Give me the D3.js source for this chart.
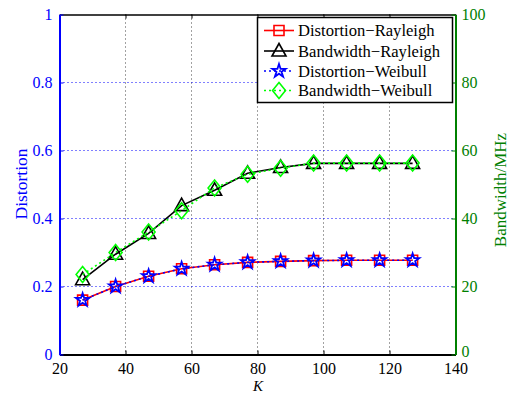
<!DOCTYPE html>
<html><head><meta charset="utf-8">
<script src="https://cdn.jsdelivr.net/npm/d3@7"></script>
<style>body{margin:0;background:#fff}svg{display:block}text{font-family:"Liberation Serif","Times New Roman",serif}</style>
</head><body>
<svg id="c" width="511" height="393"></svg>
<script>
const K = [27, 37, 47, 57, 67, 77, 87, 97, 107, 117, 127];
const distRayleigh = [0.160, 0.200, 0.230, 0.252, 0.264, 0.271, 0.274, 0.276, 0.277, 0.277, 0.277];
const bwRayleigh = [22.0, 29.5, 35.6, 43.8, 48.3, 53.3, 55.0, 56.2, 56.2, 56.2, 56.2];
const distWeibull = [0.160, 0.200, 0.230, 0.252, 0.264, 0.271, 0.274, 0.276, 0.277, 0.277, 0.277];
const bwWeibull = [23.5, 30.0, 36.0, 42.3, 49.0, 53.0, 54.8, 56.3, 56.3, 56.3, 56.3];
const xTicks = [20, 40, 60, 80, 100, 120, 140];
const yLTicks = [0, 0.2, 0.4, 0.6, 0.8, 1];
const yRTicks = [0, 20, 40, 60, 80, 100];
const legendLabels = ["Distortion\u2212Rayleigh", "Bandwidth\u2212Rayleigh", "Distortion\u2212Weibull", "Bandwidth\u2212Weibull"];

const L = 59.5, R = 455.5, T = 14.5, B = 354.5;
const svg = d3.select("#c");
const x = d3.scaleLinear().domain([20, 140]).range([L, R]);
const yL = d3.scaleLinear().domain([0, 1]).range([B, T]);
const yR = d3.scaleLinear().domain([0, 100]).range([B, T]);
const BLUE = "#0000ff", GREEN = "#008000";
const FONT = "Liberation Serif";

// grid
const g = svg.append("g");
g.selectAll(".vx").data(xTicks.slice(1, -1)).join("line")
  .attr("x1", d => x(d)).attr("x2", d => x(d)).attr("y1", T).attr("y2", B)
  .attr("stroke", "#444").attr("stroke-width", 1).attr("stroke-dasharray", "1,3");
g.selectAll(".hy").data(yLTicks.slice(1, -1)).join("line")
  .attr("x1", L).attr("x2", R).attr("y1", d => yL(d)).attr("y2", d => yL(d))
  .attr("stroke", BLUE).attr("stroke-width", 1).attr("stroke-dasharray", "1,3");

// axes
const ax = svg.append("g").attr("transform", `translate(0,${B})`)
  .call(d3.axisBottom(x).tickValues(xTicks).tickSize(-4).tickPadding(8).tickSizeOuter(0));
ax.select(".domain").attr("stroke", "#000").attr("stroke-width", 2);
ax.selectAll("text").style("font-size", "16px").attr("fill", "#000").style("font-family", FONT);
ax.selectAll(".tick line").attr("stroke", "#000");
const at = svg.append("g").attr("transform", `translate(0,${T})`)
  .call(d3.axisTop(x).tickValues(xTicks).tickSize(-4).tickFormat("").tickSizeOuter(0));
at.select(".domain").attr("stroke", "#000").attr("stroke-width", 1.5);
at.selectAll(".tick line").attr("stroke", "#000");

const al = svg.append("g").attr("transform", `translate(${L},0)`)
  .call(d3.axisLeft(yL).tickValues(yLTicks).tickSize(-4).tickPadding(7).tickFormat(d => d3.format("")(d)).tickSizeOuter(0));
al.select(".domain").attr("stroke", BLUE).attr("stroke-width", 2);
al.selectAll(".tick line").attr("stroke", BLUE);
al.selectAll("text").style("font-size", "16px").attr("fill", BLUE).style("font-family", FONT);

const ar = svg.append("g").attr("transform", `translate(${R},0)`)
  .call(d3.axisRight(yR).tickValues(yRTicks).tickSize(-4).tickPadding(6).tickSizeOuter(0));
ar.select(".domain").attr("stroke", GREEN).attr("stroke-width", 2);
ar.selectAll(".tick line").attr("stroke", GREEN);
ar.selectAll("text").style("font-size", "16px").attr("fill", GREEN).style("font-family", FONT);
ar.selectAll(".tick text").filter(d => d === 0).attr("dy", "0.1em");

// labels
svg.append("text").attr("transform", `translate(27,184) rotate(-90)`).attr("text-anchor", "middle")
  .style("font-size", "17.5px").style("font-family", FONT).attr("fill", BLUE).text("Distortion");
svg.append("text").attr("transform", `translate(506,190) rotate(-90)`).attr("text-anchor", "middle")
  .style("font-size", "17px").style("font-family", FONT).attr("fill", GREEN).text("Bandwidth/MHz");
svg.append("text").attr("x", 258).attr("y", 391).attr("text-anchor", "middle")
  .style("font-size", "15px").style("font-family", FONT).attr("font-style", "italic").text("K");

// markers
const triPath = `M0,-7.5L7,5L-7,5Z`;
const diaPath = `M0,-8L6.5,0L0,8L-6.5,0Z`;
const sqPath = `M-5,-5h10v10h-10Z`;
const starPath = d3.symbol(d3.symbolStar, 55)();

const series = [
  {v: distRayleigh, y: yL, color: "#ff0000", dash: null, mk: sqPath, w: 1.6},
  {v: bwRayleigh, y: yR, color: "#000000", dash: null, mk: triPath, w: 1.6},
  {v: distWeibull, y: yL, color: BLUE, dash: "2,3", mk: starPath, w: 1.8},
  {v: bwWeibull, y: yR, color: "#00ff00", dash: "2,3", mk: diaPath, w: 1.6}
];
const pts = svg.append("g");
series.forEach(s => {
  const data = K.map((k, i) => [k, s.v[i]]);
  pts.append("path").datum(data)
    .attr("d", d3.line().x(d => x(d[0])).y(d => s.y(d[1])))
    .attr("fill", "none").attr("stroke", s.color).attr("stroke-width", 1.6)
    .attr("stroke-dasharray", s.dash);
  pts.selectAll(null).data(data).join("path")
    .attr("transform", d => `translate(${x(d[0])},${s.y(d[1])})`)
    .attr("d", s.mk).attr("fill", "none").attr("stroke", s.color).attr("stroke-width", s.w);
});

// legend
const lg = svg.append("g");
lg.append("rect").attr("x", 257.5).attr("y", 17.5).attr("width", 195).attr("height", 85)
  .attr("fill", "#fff").attr("stroke", "#000").attr("stroke-width", 1.5);
const rowY = [30.5, 51, 71, 90.5];
series.forEach((s, i) => {
  lg.append("line").attr("x1", 264).attr("x2", 294).attr("y1", rowY[i]).attr("y2", rowY[i])
    .attr("stroke", s.color).attr("stroke-width", 1.6).attr("stroke-dasharray", s.dash);
  lg.append("path").attr("transform", `translate(279,${rowY[i]})`).attr("d", s.mk)
    .attr("fill", "none").attr("stroke", s.color).attr("stroke-width", s.w);
  lg.append("text").attr("x", 298).attr("y", rowY[i] + 5.5).style("font-size", "16.6px")
    .style("font-family", FONT).text(legendLabels[i]);
});
</script>
</body></html>
